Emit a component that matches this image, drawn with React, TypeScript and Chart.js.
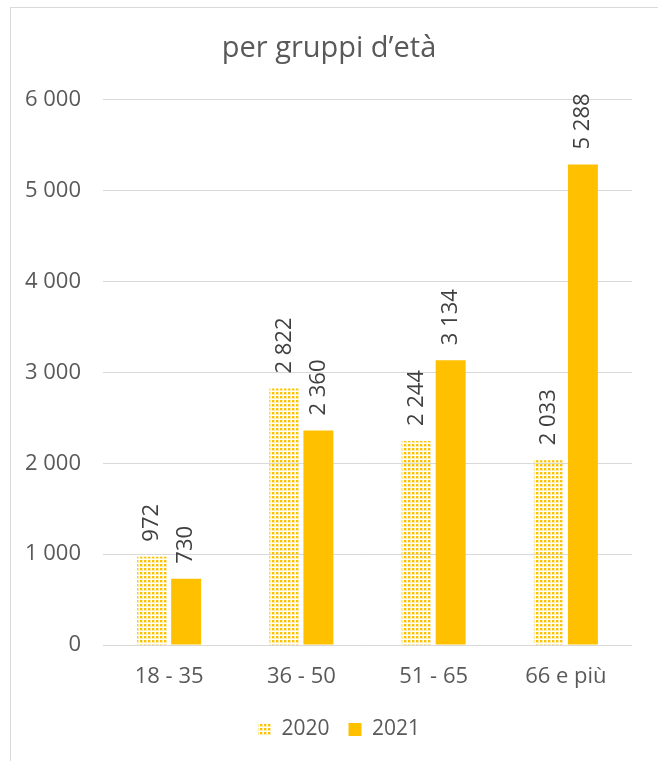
import React, { useEffect, useRef } from "react";
import { Chart, registerables } from "chart.js";

Chart.register(...registerables);

const categories = ["18 - 35", "36 - 50", "51 - 65", "66 e più"];
const series2020 = [972, 2822, 2244, 2033];
const series2021 = [730, 2360, 3134, 5288];
const seriesLabels = ["2020", "2021"];
const yTicks = [0, 1000, 2000, 3000, 4000, 5000, 6000];
const titleText = "per gruppi d’età";

const GOLD = "#FFC000";
const TEXT = "#595959";
const FONT = "'Open Sans', sans-serif";

const fmt = (v: number) => String(v).replace(/\B(?=(\d{3})+(?!\d))/g, " ");

function makePattern(): CanvasPattern | string {
  const c = document.createElement("canvas");
  c.width = 4;
  c.height = 4;
  const ctx = c.getContext("2d");
  if (!ctx) return GOLD;
  ctx.fillStyle = "rgba(255,192,0,0.35)";
  ctx.fillRect(0, 0, 3, 3);
  ctx.fillStyle = GOLD;
  ctx.fillRect(0, 0, 2, 2);
  const p = ctx.createPattern(c, "repeat");
  return p || GOLD;
}

const dataLabelPlugin = {
  id: "rotLabels",
  afterDatasetsDraw(chart: any) {
    const ctx = chart.ctx;
    ctx.save();
    ctx.font = `22px ${FONT}`;
    ctx.fillStyle = "#404040";
    ctx.textAlign = "left";
    ctx.textBaseline = "middle";
    chart.data.datasets.forEach((ds: any, di: number) => {
      const meta = chart.getDatasetMeta(di);
      meta.data.forEach((el: any, i: number) => {
        ctx.save();
        ctx.translate(el.x, el.y - 15);
        ctx.rotate(-Math.PI / 2);
        ctx.fillText(fmt(ds.data[i]), 0, 0);
        ctx.restore();
      });
    });
    ctx.restore();
  },
};

const shiftPlugin = {
  id: "shiftBlocks",
  afterLayout(chart: any) {
    if (chart.titleBlock) {
      chart.titleBlock.left += 13;
      chart.titleBlock.right += 13;
    }
    if (chart.legend) {
      chart.legend.left += 23;
      chart.legend.right += 23;
    }
  },
};

export default function App() {
  const ref = useRef<HTMLCanvasElement>(null);
  useEffect(() => {
    if (!ref.current) return;
    const pattern = makePattern();
    const chart = new Chart(ref.current, {
      type: "bar",
      data: {
        labels: categories,
        datasets: [
          {
            label: seriesLabels[0],
            data: series2020,
            backgroundColor: pattern as any,
            borderWidth: 0,
            barPercentage: 0.88,
            categoryPercentage: 0.515,
          },
          {
            label: seriesLabels[1],
            data: series2021,
            backgroundColor: GOLD,
            borderWidth: 0,
            barPercentage: 0.88,
            categoryPercentage: 0.515,
          },
        ],
      },
      options: {
        animation: false,
        responsive: false,
        layout: { padding: { left: 0, right: 26, top: 0, bottom: 11 } },
        plugins: {
          title: {
            display: true,
            text: titleText,
            color: TEXT,
            font: { family: FONT, size: 29, weight: "normal" as any, lineHeight: 1.2 },
            padding: { top: 31, bottom: 34 },
          },
          legend: {
            position: "bottom",
            labels: {
              color: TEXT,
              font: { family: FONT, size: 21 },
              boxWidth: 13,
              boxHeight: 13,
              padding: 19,
            },
          },
          tooltip: { enabled: false },
        },
        scales: {
          x: {
            grid: { display: false, drawTicks: false },
            border: { display: false },
            ticks: { color: TEXT, font: { family: FONT, size: 22 }, padding: 19 },
            afterFit: (s: any) => {
              s.height = 55;
            },
          },
          y: {
            min: yTicks[0],
            max: yTicks[yTicks.length - 1],
            afterBuildTicks: (s: any) => {
              s.ticks = yTicks.map((v) => ({ value: v }));
            },
            grid: { color: "#d9d9d9", lineWidth: 1, drawTicks: false },
            border: { display: false },
            ticks: {
              color: TEXT,
              font: { family: FONT, size: 22 },
              padding: 22,
              callback: (v: any) => fmt(Number(v)),
            },
            afterFit: (s: any) => {
              s.width = 103;
            },
          },
        },
      },
      plugins: [dataLabelPlugin, shiftPlugin],
    });
    return () => chart.destroy();
  }, []);
  return (
    <>
      <div
        style={{
          position: "absolute",
          left: 10,
          top: 7,
          width: 660,
          height: 760,
          borderLeft: "1px solid #d9d9d9",
          borderTop: "1px solid #d9d9d9",
        }}
      />
      <canvas
        ref={ref}
        width={658}
        height={761}
        style={{ position: "absolute", left: 0, top: 0, width: 658, height: 761 }}
      />
    </>
  );
}
